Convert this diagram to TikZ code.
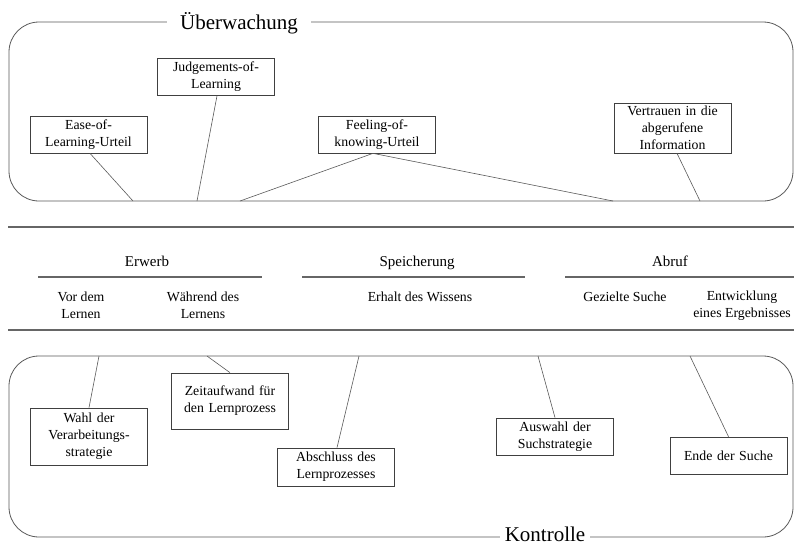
\documentclass[tikz,border=0pt]{standalone}
\usepackage{fontspec}
\setmainfont{Liberation Serif}
\begin{document}
\begin{tikzpicture}[x=1pt,y=-1pt,
  frame/.style={draw=black!65, line width=0.8pt, rounded corners=30pt},
  conn/.style={draw=black!65, line width=0.6pt},
  rule/.style={draw=black!60, line width=1.1pt},
  boxnode/.style={draw=black!75, line width=0.7pt, fill=white, minimum width=117pt, minimum height=37pt,
    text width=112pt, align=center, inner sep=2pt, font=\fontsize{13.8}{17}\selectfont},
  title/.style={fill=white, inner ysep=2pt, font=\fontsize{21}{24}\selectfont, anchor=base},
  head/.style={font=\fontsize{15}{18}\selectfont, inner sep=0pt, anchor=base},
  sub/.style={font=\fontsize{13.8}{17}\selectfont, align=center, inner sep=0pt}
]
\useasboundingbox (0,0) rectangle (794,544);

% ---------- Ueberwachung ----------
\draw[frame] (9,22) rectangle (793,201);
\node[title, inner xsep=13pt] (ueb) at (239,29) {Überwachung};

\node[boxnode] (ease) at (88.5,134.5) {Ease-of-\\Learning-Urteil};
\node[boxnode] (jol) at (216,77) {Judgements-of-\\Learning};
\node[boxnode] (fok) at (377,134.5) {Feeling-of-\\knowing-Urteil};
\node[boxnode, minimum height=50pt] (vert) at (672.5,128) {Vertrauen in die\\abgerufene\\Information};

\coordinate (t1) at (133,201);
\coordinate (t2) at (197,201);
\coordinate (t3) at (240,201);
\coordinate (t4) at (613,201);
\coordinate (t5) at (700,201);

\draw[conn] ([xshift=1.5pt]ease.south) -- (t1);
\draw[conn] ([xshift=1pt]jol.south) -- (t2);
\draw[conn] ([xshift=-4pt]fok.south) -- (t3);
\draw[conn] ([xshift=-4pt]fok.south) -- (t4);
\draw[conn] ([xshift=4.5pt]vert.south) -- (t5);

% ---------- middle table ----------
\coordinate (r1a) at (8,227);   \coordinate (r1b) at (794,227);
\coordinate (r2a) at (8,330);   \coordinate (r2b) at (794,330);
\draw[rule] (r1a) -- (r1b);
\draw[rule] (r2a) -- (r2b);

\node[head] (erw) at (147,266.5) {Erwerb};
\node[head] (spe) at (417,266.5) {Speicherung};
\node[head] (abr) at (670,266.5) {Abruf};

\coordinate (l1a) at (38,277);  \coordinate (l1b) at (262,277);
\coordinate (l2a) at (302,277); \coordinate (l2b) at (525,277);
\coordinate (l3a) at (565,277); \coordinate (l3b) at (794,277);
\draw[rule] (l1a) -- (l1b);
\draw[rule] (l2a) -- (l2b);
\draw[rule] (l3a) -- (l3b);

\node[sub] (vor) at (81,305.5) {Vor dem\\Lernen};
\node[sub] (wae) at (203,305.5) {Während des\\Lernens};
\node[sub] (erh) at (420,297) {Erhalt des Wissens};
\node[sub] (gez) at (625,297) {Gezielte Suche};
\node[sub] (ent) at (742,305.5) {Entwicklung\\eines Ergebnisses};

% ---------- Kontrolle ----------
\draw[frame] (9,356) rectangle (793,537);
\node[title, inner xsep=5pt] (kon) at (545,541) {Kontrolle};

\node[boxnode, minimum height=57pt] (wahl) at (89,436.5) {Wahl der\\Verarbeitungs-\\strategie};
\node[boxnode, minimum height=56pt] (zeit) at (230,401) {Zeitaufwand für\\den Lernprozess};
\node[boxnode, minimum height=38pt] (absch) at (336,467) {Abschluss des\\Lernprozesses};
\node[boxnode] (ausw) at (555,436.5) {Auswahl der\\Suchstrategie};
\node[boxnode] (ende) at (728.5,455.5) {Ende der Suche};

\coordinate (b1) at (99,356);
\coordinate (b2) at (207,356);
\coordinate (b3) at (359,356);
\coordinate (b4) at (538,356);
\coordinate (b5) at (690,356);

\draw[conn] (wahl.north) -- (b1);
\draw[conn] (zeit.north) -- (b2);
\draw[conn] ([xshift=1pt]absch.north) -- (b3);
\draw[conn] (ausw.north) -- (b4);
\draw[conn] (ende.north) -- (b5);
\end{tikzpicture}
\end{document}
